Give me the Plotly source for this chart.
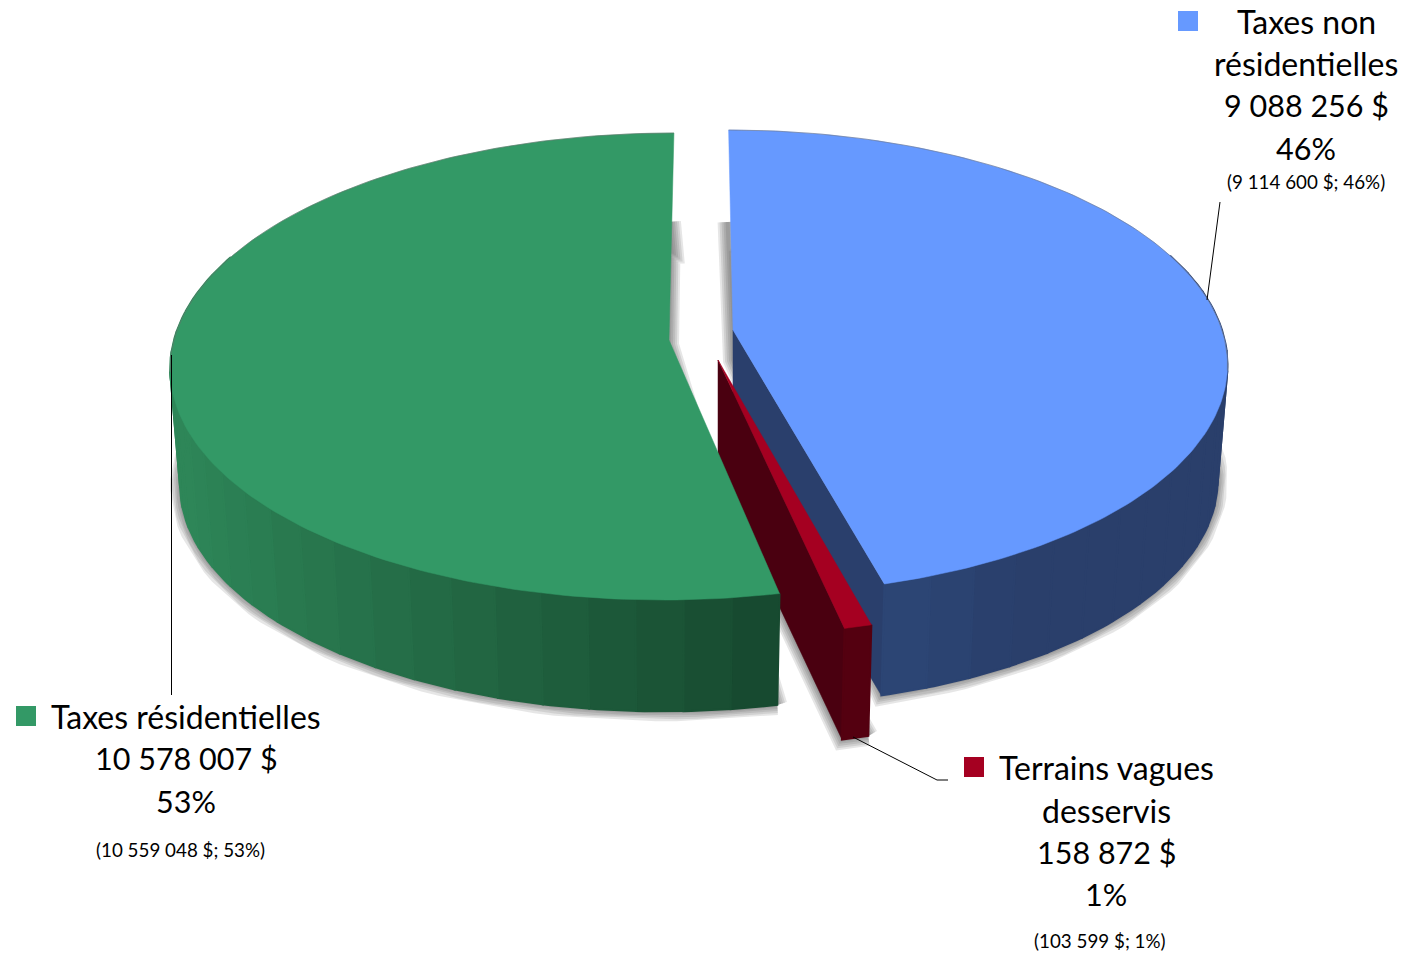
import math
import plotly.graph_objects as go

# ---- data ----
CATEGORIES = ["Taxes non résidentielles", "Terrains vagues desservis", "Taxes résidentielles"]
VALUES = [9088256, 158872, 10578007]
VALUE_LABELS = ["9 088 256 $", "158 872 $", "10 578 007 $"]
PCT_LABELS = ["46%", "1%", "53%"]
PRIOR_LABELS = ["(9 114 600 $; 46%)", "(103 599 $; 1%)", "(10 559 048 $; 53%)"]

# ---- styling / projection parameters (one entry per slice) ----
TOP_COLORS = ["#6699FF", "#A50021", "#339966"]
APEX = [(733, 330), (718, 360), (669, 340)]       # exploded slice apex on the page
RX = [489, 495, 495]
RY = [227.7, 244, 230.5]
PERSP = [0.1386, 0.1135, 0.1135]
TILT = [-5, -9, 5.5]
DEPTH = 116.5
SHRINK = 0.98
FONT = "Lato"
NAME_SIZE, NUM_SIZE, SMALL = 32, 30.5, 18.8

W, H = 1406, 955
fig = go.Figure()


def project(i, theta, lower=False):
    u, v = math.sin(theta), math.cos(theta)
    d = 1 + PERSP[i] * v
    s = SHRINK if lower else 1.0
    x = APEX[i][0] + s * (RX[i] * u + TILT[i] * v) / d
    y = APEX[i][1] + (DEPTH if lower else 0) - s * RY[i] * v / d
    return x, y


def arc(i, a0, a1, lower=False, n=90):
    pts = [project(i, a0 + (a1 - a0) * k / n, lower) for k in range(n + 1)]
    return [p[0] for p in pts], [p[1] for p in pts]


def poly(xs, ys, fill=None, line=None, width=0):
    fig.add_trace(go.Scatter(
        x=xs, y=ys, mode="lines", hoverinfo="skip", showlegend=False,
        fill="toself" if fill else "none", fillcolor=fill,
        line=dict(color=line or "rgba(0,0,0,0)", width=width)))


def mix(c0, c1, t):
    t = max(0.0, min(1.0, t))
    return "rgb(%d,%d,%d)" % tuple(round(a + (b - a) * t) for a, b in zip(c0, c1))


total = sum(VALUES)
edges = [0.0]
for val in VALUES:
    edges.append(edges[-1] + 2 * math.pi * val / total)
A = [(edges[i], edges[i + 1]) for i in range(3)]


# ---- soft drop shadows: stacked translucent outlines ----
def shadow(i, xs, ys):
    for w in (20, 16, 12, 8, 4):
        poly(xs + xs[:1], ys + ys[:1], fill="rgba(70,70,70,0.12)" if w == 4 else None,
             line="rgba(60,60,60,0.13)", width=w)


xb, yb = arc(0, *A[0], lower=True)
tx, ty = project(0, A[0][0])
shadow(0, xb + [APEX[0][0], tx - 1], yb + [APEX[0][1] + 30, ty + 92])

xr, yr = arc(1, *A[1], lower=True, n=10)
shadow(1, xr + [APEX[1][0]], yr + [APEX[1][1] + DEPTH])

xg, yg = arc(2, *A[2], lower=True)
tx, ty = project(2, A[2][1])
shadow(2, xg + [tx - 3, APEX[2][0]], yg + [ty + 89, APEX[2][1] + 5])


# ---- side walls as shaded strips ----
def side(i, a0, a1, color_at, step=math.radians(5)):
    n = max(1, round((a1 - a0) / step))
    for k in range(n):
        b0, b1 = a0 + (a1 - a0) * k / n, a0 + (a1 - a0) * (k + 1) / n
        ux, uy = arc(i, b0, b1, n=6)
        dx, dy = arc(i, b1, b0, lower=True, n=6)
        col = color_at(0.5 * (b0 + b1))
        poly(ux + dx + ux[:1], uy + dy + uy[:1], fill=col, line=col, width=2)


def radial_face(i, theta, color):
    rx, ry = project(i, theta)
    lx, ly = project(i, theta, lower=True)
    ax, ay = APEX[i]
    poly([ax, rx, lx, ax, ax], [ay, ry, ly, ay + DEPTH, ay], fill=color, line=color, width=0.5)


def top_face(i):
    xs, ys = arc(i, *A[i], n=180)
    ax, ay = APEX[i]
    poly([ax] + xs + [ax], [ay] + ys + [ay], fill=TOP_COLORS[i], line=TOP_COLORS[i], width=0.5)


def back_rim(i, a0, a1):
    xs, ys = arc(i, a0, a1, n=80)
    poly(xs, ys, line="rgba(110,110,110,0.5)", width=1)


# blue slice
radial_face(0, A[0][1], "#2A3F6C")
side(0, math.radians(70), A[0][1],
     lambda t: mix((42, 63, 107), (44, 70, 118), (math.degrees(t) - 150) / 15))
top_face(0)
back_rim(0, A[0][0], math.radians(100))

# red slice
radial_face(1, A[1][1], "#4A0010")
side(1, A[1][0], A[1][1], lambda t: "#540010", step=math.radians(3))
top_face(1)

# green slice
side(2, A[2][0], math.radians(292),
     lambda t: mix((22, 72, 46), (46, 134, 88), (0.21 - math.sin(t)) / 1.15))
top_face(2)
back_rim(2, math.radians(262), A[2][1])

# ---- leader lines ----
LEADERS = [
    ([1220, 1207], [202, 300]),
    ([853, 937, 948], [737, 780, 780]),
    ([171.5, 171.5], [355, 695]),
]
for lx_, ly_ in LEADERS:
    poly(lx_, ly_, line="#000000", width=1)

# ---- legend keys ----
KEY_X = [1188, 974, 26]
KEY_Y = [21, 767, 716]
fig.add_trace(go.Scatter(
    x=KEY_X, y=KEY_Y, mode="markers", hoverinfo="skip", showlegend=False,
    marker=dict(symbol="square", size=20, color=TOP_COLORS, line=dict(width=0))))

# ---- labels ----
NAME_LINES = [["Taxes non", "résidentielles"], ["Terrains vagues", "desservis"], ["Taxes résidentielles"]]
LABEL_X = [1306, 1106, 186]
LABEL_Y = [[21, 63, 105, 148], [767, 810, 852, 894], [716, 758, 801]]
PRIOR_X = [1306, 1100, 180]
PRIOR_Y = [181.5, 940.5, 849.5]
for i in range(3):
    names = NAME_LINES[i]
    lines = names + [VALUE_LABELS[i], PCT_LABELS[i]]
    for j, (txt, y) in enumerate(zip(lines, LABEL_Y[i])):
        size = NAME_SIZE if j < len(names) else NUM_SIZE
        fig.add_annotation(x=LABEL_X[i], y=y, text=txt, showarrow=False, xanchor="center", yanchor="middle",
                           font=dict(family=FONT, size=size, color="#000000"))
    fig.add_annotation(x=PRIOR_X[i], y=PRIOR_Y[i], text=PRIOR_LABELS[i], showarrow=False,
                       xanchor="center", yanchor="middle",
                       font=dict(family=FONT, size=SMALL, color="#000000"))

fig.update_layout(
    width=W, height=H, margin=dict(l=0, r=0, t=0, b=0),
    paper_bgcolor="white", plot_bgcolor="white", showlegend=False,
    xaxis=dict(range=[0, W], visible=False, fixedrange=True),
    yaxis=dict(range=[H, 0], visible=False, fixedrange=True),
)
fig.write_html("out.html", config={"displayModeBar": False},
               post_script="document.body.style.margin='0';")
